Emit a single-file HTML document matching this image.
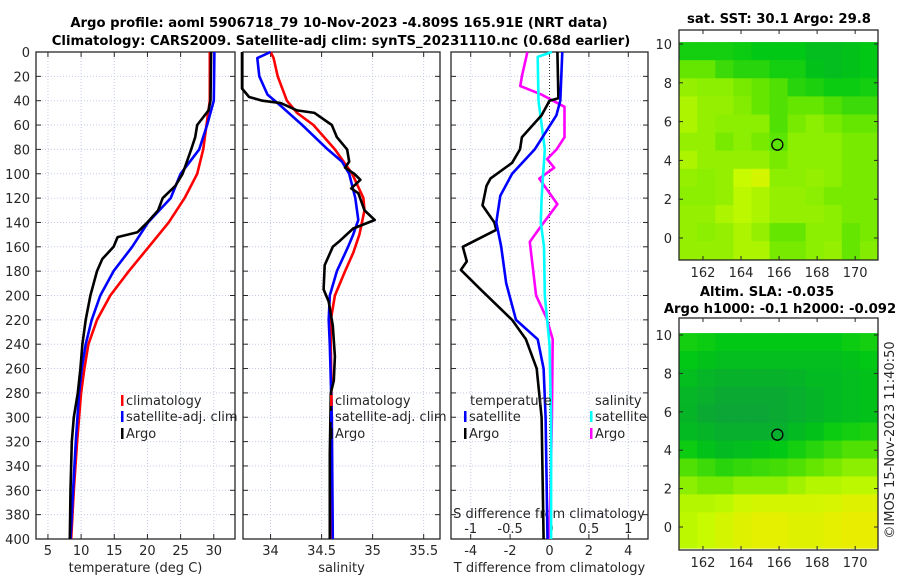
<!DOCTYPE html>
<html><head><meta charset="utf-8">
<style>
body{margin:0;background:#fff;}
svg{display:block;font-family:"DejaVu Sans","Liberation Sans",sans-serif;}
.tk{font-size:13px;fill:#262626;}
.ttl{font-size:13.2px;font-weight:bold;fill:#000;}
</style></head>
<body>
<svg id="chart" width="900" height="580" viewBox="0 0 900 580" xmlns="http://www.w3.org/2000/svg">
<text class="ttl" x="339" y="27" text-anchor="middle">Argo profile: aoml 5906718_79 10-Nov-2023 -4.809S 165.91E (NRT data)</text>
<text class="ttl" x="341" y="45" text-anchor="middle">Climatology: CARS2009. Satellite-adj clim: synTS_20231110.nc (0.68d earlier)</text>
<text class="ttl" x="779" y="23" text-anchor="middle">sat. SST: 30.1 Argo: 29.8</text>
<text class="ttl" x="767" y="296" text-anchor="middle">Altim. SLA: -0.035</text>
<text class="ttl" x="780" y="313" text-anchor="middle">Argo h1000: -0.1 h2000: -0.092</text>
<text class="tk" transform="translate(894,440) rotate(-90)" text-anchor="middle">©IMOS 15-Nov-2023 11:40:50</text>
</svg>
<script>
// ---- profile data (depth dbar, value) ----
const tempClim = [[0,29.4],[40,29.4],[60,28.9],[80,28.4],[100,27.5],[120,25.6],[140,23.2],[160,20.2],[180,17.2],[200,14.4],[220,12.4],[240,11.1],[260,10.5],[280,10.0],[320,9.4],[360,8.9],[400,8.5]];
const tempSat = [[0,30.1],[40,30.0],[60,29.0],[80,27.8],[100,25.0],[120,23.5],[140,20.1],[160,17.7],[180,14.9],[200,12.9],[220,11.6],[240,10.7],[260,10.1],[280,9.7],[320,9.2],[360,8.8],[400,8.4]];
const tempArgo = [[0,29.6],[40,29.5],[48,29.2],[60,27.5],[70,27.2],[80,26.6],[100,25.3],[110,24.2],[120,22.3],[130,21.6],[140,20.0],[148,18.5],[152,15.5],[160,14.9],[170,13.2],[180,12.4],[200,11.4],[220,10.7],[240,10.2],[260,9.9],[280,9.5],[300,8.9],[320,8.6],[360,8.4],[400,8.3]];
const salClim = [[0,34.0],[5,34.03],[20,34.07],[40,34.16],[50,34.26],[60,34.42],[80,34.63],[100,34.8],[120,34.91],[130,34.92],[150,34.87],[165,34.81],[180,34.73],[200,34.63],[220,34.59],[240,34.59],[300,34.6],[400,34.6]];
const salSat = [[0,34.0],[5,33.87],[20,33.89],[35,33.97],[45,34.11],[60,34.31],[80,34.56],[90,34.7],[100,34.77],[120,34.83],[138,34.86],[150,34.81],[160,34.76],[180,34.65],[200,34.58],[220,34.57],[240,34.58],[300,34.6],[400,34.61]];
const salArgo = [[0,33.72],[30,33.72],[37,33.79],[40,33.92],[42,34.1],[48,34.26],[50,34.43],[60,34.6],[70,34.65],[80,34.75],[90,34.77],[95,34.73],[100,34.82],[105,34.88],[112,34.79],[116,34.86],[130,34.92],[138,35.02],[145,34.81],[155,34.68],[160,34.61],[175,34.53],[195,34.52],[205,34.57],[225,34.61],[250,34.63],[270,34.62],[280,34.59],[330,34.58],[400,34.58]];
const tDiffSat = [[0,0.65],[40,0.55],[52,0.35],[80,-0.75],[100,-1.9],[118,-2.5],[140,-2.7],[160,-2.45],[190,-2.2],[220,-1.7],[236,-0.6],[260,-0.3],[300,-0.2],[400,-0.1]];
const tDiffArgo = [[0,0.4],[38,0.45],[40,0.0],[52,-0.4],[70,-1.4],[80,-1.5],[91,-1.9],[104,-3.0],[110,-3.2],[126,-3.4],[140,-2.8],[146,-2.7],[160,-4.4],[172,-4.2],[179,-4.5],[195,-3.5],[220,-1.9],[236,-1.2],[260,-0.65],[300,-0.4],[350,-0.35],[400,-0.3]];
const sDiffSat = [[0,0.03],[4,-0.15],[40,-0.14],[80,-0.06],[120,-0.1],[140,-0.11],[160,-0.07],[200,-0.06],[240,0.0],[300,0.02],[400,0.02]];
const sDiffArgo = [[0,-0.28],[20,-0.35],[28,-0.37],[35,-0.1],[45,0.19],[70,0.19],[80,0.09],[88,-0.03],[95,0.06],[104,-0.13],[125,0.1],[145,-0.13],[156,-0.25],[200,-0.17],[218,-0.04],[236,0.04],[300,0.03],[400,0.0]];
// ---- axis ticks ----
const depthTicks = [0,20,40,60,80,100,120,140,160,180,200,220,240,260,280,300,320,340,360,380,400];
const tempTicks = [5,10,15,20,25,30];
const salTicks = [34,34.5,35,35.5];
const salTickLabels = ["34","34.5","35","35.5"];
const tDiffTicks = [-4,-2,0,2,4];
const sDiffTicks = [-1,-0.5,0,0.5,1];
const sDiffTickLabels = ["-1","-0.5","0","0.5","1"];
const lonTicks = [162,164,166,168,170];
const latTicks = [0,2,4,6,8,10];
// ---- map grids (rows lat 10 -> -1, cols lon 161 -> 171), 0=dark green,1=yellow ----
const sstGrid = [
[0.3,0.3,0.3,0.28,0.25,0.25,0.25,0.2,0.2,0.22,0.25],
[0.5,0.5,0.4,0.35,0.35,0.3,0.3,0.22,0.2,0.22,0.25],
[0.62,0.6,0.6,0.55,0.5,0.45,0.35,0.32,0.28,0.28,0.3],
[0.68,0.62,0.62,0.58,0.5,0.45,0.5,0.5,0.45,0.4,0.4],
[0.68,0.62,0.6,0.6,0.6,0.45,0.55,0.6,0.55,0.5,0.5],
[0.62,0.62,0.55,0.6,0.55,0.48,0.6,0.6,0.6,0.55,0.55],
[0.68,0.62,0.62,0.62,0.62,0.55,0.6,0.6,0.6,0.55,0.55],
[0.62,0.6,0.62,0.75,0.8,0.6,0.6,0.62,0.6,0.55,0.55],
[0.6,0.6,0.62,0.72,0.68,0.62,0.62,0.6,0.55,0.55,0.55],
[0.62,0.62,0.68,0.72,0.68,0.62,0.62,0.62,0.6,0.55,0.55],
[0.62,0.6,0.62,0.68,0.62,0.5,0.5,0.6,0.6,0.5,0.55],
[0.62,0.62,0.62,0.68,0.68,0.55,0.55,0.6,0.62,0.5,0.58]];
const slaGrid = [
[0.3,0.28,0.25,0.25,0.25,0.25,0.25,0.25,0.25,0.28,0.3],
[0.25,0.22,0.2,0.2,0.2,0.2,0.2,0.2,0.2,0.22,0.25],
[0.2,0.16,0.14,0.14,0.14,0.14,0.15,0.18,0.18,0.2,0.22],
[0.16,0.13,0.1,0.1,0.1,0.1,0.12,0.15,0.18,0.2,0.22],
[0.15,0.1,0.08,0.08,0.08,0.1,0.12,0.15,0.18,0.2,0.22],
[0.18,0.15,0.12,0.12,0.12,0.12,0.18,0.22,0.28,0.3,0.32],
[0.28,0.22,0.18,0.2,0.22,0.25,0.3,0.35,0.4,0.45,0.45],
[0.45,0.4,0.35,0.38,0.4,0.42,0.45,0.5,0.55,0.6,0.6],
[0.6,0.55,0.55,0.6,0.6,0.6,0.65,0.7,0.7,0.72,0.72],
[0.7,0.7,0.72,0.78,0.8,0.8,0.8,0.8,0.82,0.85,0.85],
[0.72,0.75,0.8,0.85,0.88,0.88,0.85,0.85,0.88,0.9,0.9],
[0.72,0.75,0.8,0.85,0.88,0.88,0.85,0.85,0.88,0.9,0.9]];

const NS="http://www.w3.org/2000/svg";
const svg=document.getElementById('chart');
function mk(tag,attrs,parent){const e=document.createElementNS(NS,tag);for(const k in attrs)e.setAttribute(k,attrs[k]);(parent||svg).appendChild(e);return e;}
function lin(d0,d1,r0,r1){return v=>r0+(v-d0)*(r1-r0)/(d1-d0);}

const TOP=52,BOT=539;
const yD=lin(0,400,TOP,BOT);
const panels=[
 {name:'temperature-panel',x0:36,x1:235,fx:lin(3.2,33.2,36,235),ticks:tempTicks,labels:tempTicks.map(String),title:'temperature (deg C)'},
 {name:'salinity-panel',x0:243,x1:440,fx:lin(33.73,35.66,243,440),ticks:salTicks,labels:salTickLabels,title:'salinity'},
 {name:'difference-panel',x0:451,x1:648,fx:lin(-5,5,451,648),ticks:tDiffTicks,labels:tDiffTicks.map(String),title:'T difference from climatology'}
];
panels.forEach((p,i)=>{
  const g=mk('g',{});
  
  
  depthTicks.forEach(d=>{
    const l=mk('line',{x1:p.x0,x2:p.x1,y1:yD(d),y2:yD(d),stroke:'#c3cbe8','stroke-width':1,'stroke-dasharray':'1,2'},g);
    
    
    mk('line',{x1:p.x0,x2:p.x0+5,y1:yD(d),y2:yD(d),stroke:'#262626'},g);
    mk('line',{x1:p.x1,x2:p.x1-5,y1:yD(d),y2:yD(d),stroke:'#262626'},g);
    if(i===0){const t=mk('text',{class:'tk',x:30,y:yD(d)+5,'text-anchor':'end'},g);t.textContent=d;
      
      }
  });
  p.ticks.forEach((v,k)=>{
    const x=p.fx(v);
    const l=mk('line',{x1:x,x2:x,y1:TOP,y2:BOT,stroke:'#c3cbe8','stroke-width':1,'stroke-dasharray':'1,2'},g);
    
    
    mk('line',{x1:x,x2:x,y1:BOT,y2:BOT-5,stroke:'#262626'},g);
    mk('line',{x1:x,x2:x,y1:TOP,y2:TOP+5,stroke:'#262626'},g);
    const t=mk('text',{class:'tk',x:x,y:555,'text-anchor':'middle'},g);t.textContent=p.labels[k];
    
    
  });
  const r=mk('rect',{x:p.x0,y:TOP,width:p.x1-p.x0,height:BOT-TOP,fill:'none',stroke:'#262626','stroke-width':1.3},g);
  
  
  const tt=mk('text',{class:'tk',x:(p.x0+p.x1)/2,y:572,'text-anchor':'middle'},g);tt.textContent=p.title;
  
  
});
const sx=lin(-1.25,1.25,451,648);
const st=mk('text',{class:'tk',x:549,y:518,'text-anchor':'middle'});st.textContent='S difference from climatology';


sDiffTicks.forEach((v,k)=>{const t=mk('text',{class:'tk',x:sx(v),y:533,'text-anchor':'middle'});t.textContent=sDiffTickLabels[k];
  
  });
const zl=mk('line',{x1:panels[2].fx(0),x2:panels[2].fx(0),y1:TOP,y2:BOT,stroke:'#333','stroke-dasharray':'1,2'});



function drawLine(data,fx,color,name){
  const pts=data.map(d=>fx(d[1]).toFixed(1)+','+yD(d[0]).toFixed(1)).join(' ');
  const e=mk('polyline',{points:pts,fill:'none',stroke:color,'stroke-width':2.6,'stroke-linejoin':'round'});
  
  
}
drawLine(tempClim,panels[0].fx,'#ff0000','temp-climatology-line');
drawLine(tempSat,panels[0].fx,'#0000ff','temp-satellite-line');
drawLine(tempArgo,panels[0].fx,'#000000','temp-argo-line');
drawLine(salClim,panels[1].fx,'#ff0000','sal-climatology-line');
drawLine(salSat,panels[1].fx,'#0000ff','sal-satellite-line');
drawLine(salArgo,panels[1].fx,'#000000','sal-argo-line');
drawLine(sDiffArgo,sx,'#ff00ff','sdiff-argo-line');
drawLine(sDiffSat,sx,'#00ffff','sdiff-satellite-line');
drawLine(tDiffArgo,panels[2].fx,'#000000','tdiff-argo-line');
drawLine(tDiffSat,panels[2].fx,'#0000ff','tdiff-satellite-line');

function legend(x,y,color,label,name){
  const g=mk('g',{});
  
  
  mk('rect',{x:x,y:y-10,width:2.5,height:11,fill:color},g);
  const t=mk('text',{class:'tk',x:x+5,y:y},g);t.textContent=label;
}
legend(121,405,'#ff0000','climatology','legend-temp-climatology');
legend(121,421,'#0000ff','satellite-adj. clim','legend-temp-satellite');
legend(121,438,'#000000','Argo','legend-temp-argo');
legend(330,405,'#ff0000','climatology','legend-sal-climatology');
legend(330,421,'#0000ff','satellite-adj. clim','legend-sal-satellite');
legend(330,438,'#000000','Argo','legend-sal-argo');
const lt=mk('text',{class:'tk',x:470,y:405});lt.textContent='temperature';


const ls=mk('text',{class:'tk',x:595,y:405});ls.textContent='salinity';


legend(464,421,'#0000ff','satellite','legend-tdiff-satellite');
legend(464,438,'#000000','Argo','legend-tdiff-argo');
legend(590,421,'#00ffff','satellite','legend-sdiff-satellite');
legend(590,438,'#ff00ff','Argo','legend-sdiff-argo');

function col(v){
  const stops=[[0,[16,150,70]],[0.25,[0,200,20]],[0.5,[100,230,0]],[0.75,[200,250,0]],[1,[255,230,0]]];
  for(let i=1;i<stops.length;i++){if(v<=stops[i][0]){const a=stops[i-1],b=stops[i];const t=(v-a[0])/(b[0]-a[0]);
    return 'rgb('+a[1].map((c,j)=>Math.round(c+(b[1][j]-c)*t)).join(',')+')';}}
  return 'rgb(255,230,0)';
}
function drawMap(name,grid,top,bottom,fy){
  const fx=lin(160.74,171.2,679,878);
  const g=mk('g',{});
  
  
  const nr=grid.length,nc=grid[0].length;
  const lat0=10.1,lat1=-1.1,lon0=160.75,lon1=171.2;
  for(let r=0;r<nr;r++)for(let c=0;c<nc;c++){
    const la=lat0-(lat0-lat1)*r/nr, lb=lat0-(lat0-lat1)*(r+1)/nr;
    const oa=lon0+(lon1-lon0)*c/nc, ob=lon0+(lon1-lon0)*(c+1)/nc;
    const e=mk('rect',{x:fx(oa),y:fy(la),width:fx(ob)-fx(oa)+0.5,height:fy(lb)-fy(la)+0.5,fill:col(grid[r][c])},g);
    
    
  }
  const ci=mk('circle',{cx:fx(165.91),cy:fy(4.809),r:5.5,fill:'none',stroke:'#000','stroke-width':1.3},g);
  
  
  lonTicks.forEach(v=>{mk('line',{x1:fx(v),x2:fx(v),y1:bottom,y2:bottom-4,stroke:'#262626'},g);
    mk('line',{x1:fx(v),x2:fx(v),y1:top,y2:top+4,stroke:'#262626'},g);
    const t=mk('text',{class:'tk',x:fx(v),y:bottom+17,'text-anchor':'middle'},g);t.textContent=v;
    
    });
  latTicks.forEach(v=>{mk('line',{x1:679,x2:683,y1:fy(v),y2:fy(v),stroke:'#262626'},g);
    mk('line',{x1:878,x2:874,y1:fy(v),y2:fy(v),stroke:'#262626'},g);
    const t=mk('text',{class:'tk',x:672,y:fy(v)+5,'text-anchor':'end'},g);t.textContent=v;
    
    });
  const fr=mk('rect',{x:679,y:top,width:199,height:bottom-top,fill:'none',stroke:'#262626','stroke-width':1.3},g);
  
  
}
drawMap('sst-map',sstGrid,30,260,lin(0,10,238,44));
drawMap('sla-map',slaGrid,318,550,lin(0,10,527,335));
</script>
</body></html>
